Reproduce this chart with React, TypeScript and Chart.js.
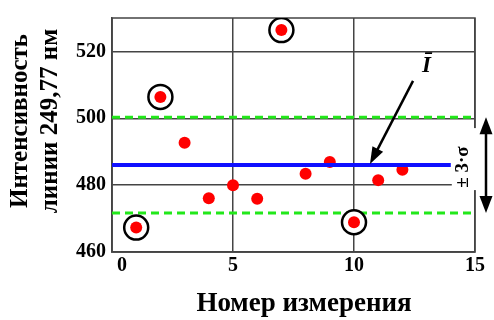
import React, { useEffect, useRef } from 'react';
import { Chart, registerables } from 'chart.js';

Chart.register(...registerables);

// ---- data ----
const measurementNumbers = [1, 2, 3, 4, 5, 6, 7, 8, 9, 10, 11, 12];
const intensities = [467.3, 506.4, 492.7, 476.1, 480.0, 475.9, 526.4, 483.4, 486.9, 468.9, 481.5, 484.6];
const outlierNumbers = [1, 2, 7, 10];
const meanIntensity = 486;
const upperLimit = 500.3;
const lowerLimit = 471.7;
const meanLineX = [0, 14];
const limitLineX = [0, 15];
const xTickValues = [0, 5, 10, 15];
const yTickValues = [460, 480, 500, 520];
const xAxisTitle = 'Номер измерения';
const yAxisTitle = ['Интенсивность', 'линии 249,77 нм'];
const meanLabel = 'Ī';
const sigmaLabel = '± 3·σ';

const GRID = '#444444';
const SERIF = '"Liberation Serif", "Times New Roman", serif';

function arrowHead(ctx: CanvasRenderingContext2D, x1: number, y1: number, x2: number, y2: number, len: number, half: number) {
  const ang = Math.atan2(y2 - y1, x2 - x1);
  const bx = x2 - Math.cos(ang) * len;
  const by = y2 - Math.sin(ang) * len;
  const px = -Math.sin(ang) * half;
  const py = Math.cos(ang) * half;
  ctx.beginPath();
  ctx.moveTo(x2, y2);
  ctx.lineTo(bx + px, by + py);
  ctx.lineTo(bx - px, by - py);
  ctx.closePath();
  ctx.fill();
}

const decorPlugin = {
  id: 'decor',
  beforeDatasetsDraw(chart: any) {
    const { ctx, chartArea: a, scales } = chart;
    const yM = scales.y.getPixelForValue(meanIntensity);
    ctx.save();
    ctx.strokeStyle = GRID;
    ctx.lineWidth = 1.5;
    ctx.strokeRect(a.left, a.top, a.right - a.left, a.bottom - a.top);
    ctx.fillStyle = '#ffffff';
    ctx.fillRect(scales.x.getPixelForValue(14) + 1, yM - 37, 40, 62);
    ctx.restore();
  },
  afterDraw(chart: any) {
    const { ctx, chartArea: a, scales } = chart;
    const xs = scales.x;
    const ys = scales.y;
    ctx.save();
    ctx.fillStyle = '#000';
    ctx.strokeStyle = '#000';

    // mean label
    ctx.font = `italic bold 23px ${SERIF}`;
    ctx.textAlign = 'center';
    ctx.textBaseline = 'middle';
    ctx.fillText(meanLabel, xs.getPixelForValue(13.0), ys.getPixelForValue(515.6));

    // arrow to mean line
    const sx = xs.getPixelForValue(12.44), sy = ys.getPixelForValue(511.2);
    const tx = xs.getPixelForValue(10.66), ty = ys.getPixelForValue(meanIntensity) - 1;
    ctx.lineWidth = 2.5;
    ctx.beginPath();
    ctx.moveTo(sx, sy);
    const ang = Math.atan2(ty - sy, tx - sx);
    ctx.lineTo(tx - Math.cos(ang) * 12, ty - Math.sin(ang) * 12);
    ctx.stroke();
    arrowHead(ctx, sx, sy, tx, ty, 17, 6);

    // ±3σ double arrow
    const ax = a.right + 11;
    const aTop = ys.getPixelForValue(upperLimit);
    const aBot = ys.getPixelForValue(lowerLimit);
    ctx.beginPath();
    ctx.moveTo(ax, aTop + 12);
    ctx.lineTo(ax, aBot - 12);
    ctx.stroke();
    arrowHead(ctx, ax, aBot, ax, aTop, 17, 6.5);
    arrowHead(ctx, ax, aTop, ax, aBot, 17, 6.5);

    // ±3σ text
    ctx.save();
    ctx.translate(a.right - 12, ys.getPixelForValue(meanIntensity) + 2);
    ctx.rotate(-Math.PI / 2);
    ctx.font = `bold 19px ${SERIF}`;
    ctx.textAlign = 'center';
    ctx.textBaseline = 'middle';
    ctx.fillText(sigmaLabel, 0, 0);
    ctx.restore();

    // axis titles
    ctx.font = `bold 27px ${SERIF}`;
    ctx.textAlign = 'center';
    ctx.textBaseline = 'middle';
    ctx.fillText(xAxisTitle, 304, 304);
    ctx.font = `bold 25px ${SERIF}`;
    const yc = 121;
    ctx.save();
    ctx.translate(21, yc);
    ctx.rotate(-Math.PI / 2);
    ctx.fillText(yAxisTitle[0], 0, 0);
    ctx.restore();
    ctx.save();
    ctx.translate(51, yc);
    ctx.rotate(-Math.PI / 2);
    ctx.fillText(yAxisTitle[1], 0, 0);
    ctx.restore();

    ctx.restore();
  },
};

export default function App() {
  const ref = useRef<HTMLCanvasElement | null>(null);

  useEffect(() => {
    if (!ref.current) return;
    const points = measurementNumbers.map((n, i) => ({ x: n, y: intensities[i] }));
    const outliers = outlierNumbers.map((n) => ({ x: n, y: intensities[measurementNumbers.indexOf(n)] }));
    const tickFont = { family: SERIF, size: 20, weight: 'bold' as const };

    const chart = new Chart(ref.current, {
      type: 'scatter',
      data: {
        datasets: [
          {
            label: 'mean',
            type: 'line',
            data: meanLineX.map((x) => ({ x, y: meanIntensity })),
            borderColor: '#1010ff',
            borderWidth: 4,
            pointRadius: 0,
            order: 0,
          } as any,
          {
            label: 'points',
            data: points,
            backgroundColor: '#ff0000',
            borderColor: '#ff0000',
            borderWidth: 0,
            pointRadius: 6,
            order: 1,
          },
          {
            label: 'outliers',
            data: outliers,
            backgroundColor: '#ffffff',
            borderColor: '#000000',
            borderWidth: 2.5,
            pointRadius: 12,
            order: 2,
          },
          {
            label: 'upper',
            type: 'line',
            data: limitLineX.map((x) => ({ x, y: upperLimit })),
            borderColor: '#22e81a',
            borderWidth: 3,
            borderDash: [8, 5],
            pointRadius: 0,
            order: 3,
          } as any,
          {
            label: 'lower',
            type: 'line',
            data: limitLineX.map((x) => ({ x, y: lowerLimit })),
            borderColor: '#22e81a',
            borderWidth: 3,
            borderDash: [8, 5],
            pointRadius: 0,
            order: 3,
          } as any,
        ],
      },
      options: {
        responsive: false,
        animation: false,
        layout: { padding: { top: 14, right: 19, bottom: 0, left: 0 } },
        plugins: { legend: { display: false }, tooltip: { enabled: false } },
        scales: {
          x: {
            type: 'linear',
            min: 0,
            max: 15,
            afterBuildTicks: (s: any) => {
              s.ticks = xTickValues.map((v) => ({ value: v }));
            },
            afterFit: (s: any) => {
              s.height = 68;
            },
            grid: { color: GRID, lineWidth: 1.5, drawTicks: false },
            border: { color: GRID, width: 1.5 },
            ticks: {
              font: tickFont,
              color: '#000',
              padding: 2,
              labelOffset: 0,
              maxRotation: 0,
              callback: (v: any) => (v === 0 ? '    0' : String(v)),
            },
          },
          y: {
            type: 'linear',
            min: 460,
            max: 530,
            afterBuildTicks: (s: any) => {
              s.ticks = yTickValues.map((v) => ({ value: v }));
            },
            afterFit: (s: any) => {
              s.width = 112;
            },
            grid: { color: GRID, lineWidth: 1.5, drawTicks: false },
            border: { color: GRID, width: 1.5 },
            ticks: { font: tickFont, color: '#000', padding: 6 },
          },
        },
      },
      plugins: [decorPlugin],
    });
    return () => chart.destroy();
  }, []);

  return (
    <div style={{ position: 'absolute', left: 0, top: 0, width: 494, height: 320, background: '#fff' }}>
      <canvas ref={ref} width={494} height={320} />
    </div>
  );
}
